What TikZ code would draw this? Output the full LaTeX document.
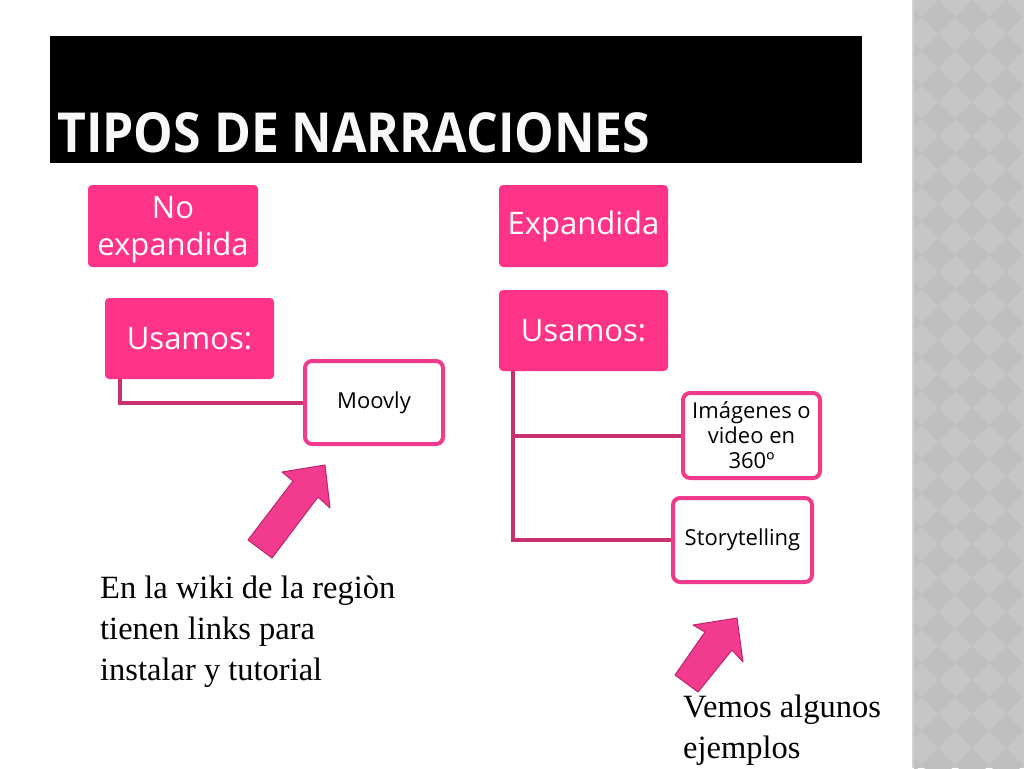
\documentclass[tikz,border=0pt]{standalone}
\usepackage{graphicx}
\usepackage{fontspec}
\setmainfont{Liberation Serif}
\newfontfamily\boxfont{Open Sans}
\definecolor{boxpink}{HTML}{FF3388}
\definecolor{edgepink}{HTML}{F23A8C}
\definecolor{connpink}{HTML}{C8306E}
\definecolor{arrowfill}{HTML}{F23A8E}
\definecolor{arrowedge}{HTML}{B8286A}
\definecolor{stripbase}{HTML}{C6C6C6}
\definecolor{stripdark}{HTML}{BFBFBF}
\begin{document}
\begin{tikzpicture}[x=1pt,y=-1pt,
  pinkbox/.style={rectangle, rounded corners=4pt, fill=boxpink, text=white, inner sep=0pt,
    font=\boxfont\fontsize{31}{37}\selectfont, align=center},
  leafbox/.style={rectangle, rounded corners=7pt, draw=edgepink, line width=4pt, fill=white,
    inner sep=0pt, font=\boxfont\fontsize{22}{25}\selectfont, align=center},
  conn/.style={draw=connpink, line width=4pt},
  blockarrow/.style={fill=arrowfill, draw=arrowedge, line width=1pt, line join=round},
  serifnote/.style={anchor=north west, inner sep=0pt, align=left, font=\fontsize{32.5}{41}\selectfont}]
\useasboundingbox (0,0) rectangle (1024,768);
\fill[white] (0,0) rectangle (1024,768);
% right decorative strip
\fill[stripbase] (912,0) rectangle (1024,768);
\begin{scope}
\clip (914,0) rectangle (1024,768);
\foreach \i in {-1,...,3}{
  \foreach \j in {-1,...,23}{
    \fill[stripdark] ({938+34*\i},{34*\j}) -- ({938+34*\i+17},{17+34*\j}) -- ({938+34*\i},{34+34*\j}) -- ({938+34*\i-17},{17+34*\j}) -- cycle;
  }
}
\end{scope}
\fill[gray!35] (912,0) rectangle (914,768);
% title bar
\fill[black] (50,36) rectangle (862,163);
\node[anchor=base west, inner sep=0pt, text=white!95!gray] (title) at (57,152)
  {\resizebox{593pt}{40pt}{\boxfont\bfseries TIPOS DE NARRACIONES}};
% left tree
\node[pinkbox, minimum width=170pt, minimum height=82pt] (noexp) at (173,226)
  {\raisebox{-4pt}[\height][\depth]{\begin{tabular}{@{}c@{}}No\\expandida\end{tabular}}};
\node[pinkbox, minimum width=169pt, minimum height=81pt] (usL) at (189.5,338.5) {Usamos:};
\node[leafbox, minimum width=138pt, minimum height=83pt] (moovly) at (374,402.5) {Moovly};
\draw[conn] ([xshift=15pt]usL.south west) |- (moovly.west);
% right tree
\node[pinkbox, minimum width=169pt, minimum height=82pt] (expd) at (583.5,226) {Expandida};
\node[pinkbox, minimum width=169pt, minimum height=81pt] (usR) at (583.5,330.5) {Usamos:};
\node[leafbox, minimum width=137pt, minimum height=85pt] (img) at (751.5,435.5) {Imágenes o\\video en\\360º};
\node[leafbox, minimum width=139pt, minimum height=84pt] (story) at (742.5,540) {Storytelling};
\draw[conn] ([xshift=14pt]usR.south west) |- (img.west);
\draw[conn] ([xshift=14pt]usR.south west) |- (story.west);
% block arrows
\filldraw[blockarrow] (325,465) -- (282,472) -- (293,481) -- (248,540) -- (272,558) -- (318,497) -- (330,508) -- cycle;
\filldraw[blockarrow] (737,618) -- (693,625) -- (705,632) -- (675,675) -- (698,692) -- (732,650) -- (743,662) -- cycle;
% notes
\node[serifnote] (wiki) at (100,576) {En la wiki de la regiòn\\tienen links para\\instalar y tutorial};
\node[serifnote] (vemos) at (683,695) {Vemos algunos\\ejemplos};
\end{tikzpicture}
\end{document}
